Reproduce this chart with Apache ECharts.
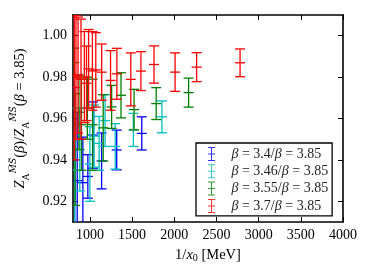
<!DOCTYPE html>
<html>
<head>
<meta charset="utf-8">
<script src="https://cdn.jsdelivr.net/npm/echarts@6/dist/echarts.min.js"></script>
<style>html,body{margin:0;padding:0;background:#fff}#c{width:374px;height:280px}</style>
</head>
<body>
<div id="c"></div>
<script>
// ---- data (x = 1/x0 [MeV], y = ratio, e = error) ----
const seriesNames = ['β = 3.4/β = 3.85', 'β = 3.46/β = 3.85', 'β = 3.55/β = 3.85', 'β = 3.7/β = 3.85'];

const blueX = [820, 850, 917, 976, 1036, 1139, 1318, 1615];
const blueY = [0.940, 0.930, 0.929, 0.932, 0.952, 0.9395, 0.9448, 0.9528];
const blueE = [0.035, 0.033, 0.022, 0.0105, 0.016, 0.0135, 0.0096, 0.008];

const cyanX = [820, 880, 1000, 1050, 1110, 1180, 1300, 1515, 1854];
const cyanY = [0.935, 0.945, 0.938, 0.9515, 0.948, 0.959, 0.9465, 0.9545, 0.9608];
const cyanE = [0.030, 0.020, 0.018, 0.015, 0.013, 0.0125, 0.011, 0.008, 0.0077];

const greenX = [815, 825, 870, 900, 970, 1032, 1158, 1258, 1369, 1524, 1786, 2170];
const greenY = [0.987, 0.945, 0.963, 0.957, 0.965, 0.957, 0.9555, 0.9656, 0.9712, 0.9643, 0.9672, 0.9725];
const greenE = [0.007, 0.027, 0.018, 0.022, 0.015, 0.022, 0.016, 0.0104, 0.0109, 0.0098, 0.0077, 0.007];

const redX = [815, 835, 860, 895, 935, 960, 985, 1030, 1070, 1140, 1245, 1320, 1485, 1605, 1760, 2010, 2265, 2780];
const redY = [0.975, 0.980, 0.981, 0.979, 0.980, 0.977, 0.984, 0.983, 0.9835, 0.9824, 0.9784, 0.9816, 0.9789, 0.9829, 0.9861, 0.9824, 0.9848, 0.9869];
const redE = [0.035, 0.030, 0.028, 0.029, 0.022, 0.018, 0.019, 0.019, 0.018, 0.0136, 0.0144, 0.0123, 0.0128, 0.0094, 0.009, 0.0093, 0.007, 0.0067];

const xTicks = [1000, 1500, 2000, 2500, 3000, 3500, 4000];
const yTicks = [0.92, 0.94, 0.96, 0.98, 1.00];

// ---- chart ----
const colors = ['#0000ff', '#00bfbf', '#008000', '#ff0000'];
const allX = [blueX, cyanX, greenX, redX];
const allY = [blueY, cyanY, greenY, redY];
const allE = [blueE, cyanE, greenE, redE];

function buildData(xs, ys, es) {
  return xs.map((x, i) => [x, ys[i], es[i]]);
}

function renderItem(params, api) {
  const x = api.value(0), y = api.value(1), e = api.value(2);
  const top = api.coord([x, y + e]);
  const bot = api.coord([x, y - e]);
  const mid = api.coord([x, y]);
  const hw = 5;
  const color = api.visual('color');
  const style = { stroke: color, lineWidth: 1.3, fill: null };
  return {
    type: 'group',
    children: [
      { type: 'line', shape: { x1: mid[0], y1: top[1], x2: mid[0], y2: bot[1] }, style },
      { type: 'line', shape: { x1: mid[0] - hw, y1: top[1], x2: mid[0] + hw, y2: top[1] }, style },
      { type: 'line', shape: { x1: mid[0] - hw, y1: bot[1], x2: mid[0] + hw, y2: bot[1] }, style },
      { type: 'line', shape: { x1: mid[0] - hw, y1: mid[1], x2: mid[0] + hw, y2: mid[1] }, style }
    ]
  };
}

const ebIcon = 'path://M0,0h10v1.4h-10z M4.3,0h1.4v20h-1.4z M0,9.3h10v1.4h-10z M0,18.6h10v1.4h-10z';
const serif = '"Liberation Serif", "DejaVu Serif", serif';

const series = seriesNames.map((n, k) => ({
  name: n,
  type: 'custom',
  renderItem: renderItem,
  clip: true,
  itemStyle: { color: colors[k], opacity: 0.8 },
  encode: { x: 0, y: 1 },
  data: buildData(allX[k], allY[k], allE[k]),
  z: 2 + k
}));

const axisLineStyle = { color: '#000', width: 1.6 };

const option = {
  animation: false,
  backgroundColor: '#fff',
  grid: { left: 73, right: 31, top: 15, bottom: 58 },
  legend: {
    orient: 'vertical',
    left: 196, top: 143,
    padding: [4, 4, 3, 12],
    itemGap: 3.3,
    itemWidth: 10, itemHeight: 14,
    borderColor: '#000', borderWidth: 1.3,
    backgroundColor: '#fff',
    formatter: name => name.replace(/β/g, '{i|β}'),
    textStyle: {
      fontFamily: serif, fontSize: 14, color: '#222', padding: [0, 0, 0, 10],
      rich: { i: { fontFamily: serif, fontSize: 14, fontStyle: 'italic', color: '#222' } }
    },
    data: seriesNames.map((n, k) => ({ name: n, icon: ebIcon, itemStyle: { color: colors[k] } }))
  },
  xAxis: [{
    type: 'value', min: 800, max: 4000,
    name: '1/{i|x}{s|0} [MeV]',
    nameLocation: 'middle', nameGap: 26,
    nameTextStyle: {
      fontFamily: serif, fontSize: 14.5, color: '#000',
      rich: {
        i: { fontFamily: serif, fontSize: 14.5, fontStyle: 'italic', color: '#000' },
        s: { fontFamily: serif, fontSize: 10, color: '#000', verticalAlign: 'bottom', lineHeight: 10 }
      }
    },
    axisLine: { show: true, onZero: false, lineStyle: axisLineStyle },
    axisTick: { show: true, inside: true, length: 5, lineStyle: { color: '#000', width: 1 }, customValues: xTicks },
    axisLabel: { show: true, customValues: xTicks, fontFamily: serif, fontSize: 14, color: '#000', margin: 6,
      formatter: v => String(v) },
    splitLine: { show: false }
  }, {
    type: 'value', min: 800, max: 4000, position: 'top',
    axisLine: { show: true, onZero: false, lineStyle: axisLineStyle },
    axisTick: { show: true, inside: true, length: 5, lineStyle: { color: '#000', width: 1 }, customValues: xTicks },
    axisLabel: { show: false },
    splitLine: { show: false }
  }],
  yAxis: [{
    type: 'value', min: 0.91, max: 1.01,
    name: '{z|Z}{sb|A}{sp|M̅S̅}{n|(}{b|β}{n|)/}{z|Z}{sb|A}{sp|M̅S̅}{n|(}{b|β}{n| = 3.85)}',
    nameLocation: 'middle', nameGap: 36, nameRotate: 90,
    nameTextStyle: {
      fontFamily: serif, fontSize: 14.5, color: '#000',
      rich: {
        z: { fontFamily: serif, fontSize: 14.5, fontStyle: 'italic', color: '#000', lineHeight: 22 },
        n: { fontFamily: serif, fontSize: 14.5, color: '#000', lineHeight: 22 },
        b: { fontFamily: serif, fontSize: 14.5, fontStyle: 'italic', color: '#000', lineHeight: 22 },
        sb: { fontFamily: serif, fontSize: 10, color: '#000', verticalAlign: 'bottom', lineHeight: 10 },
        sp: { fontFamily: '"DejaVu Serif", serif', fontSize: 9, fontStyle: 'italic', color: '#000', verticalAlign: 'top', lineHeight: 10 }
      }
    },
    axisLine: { show: true, onZero: false, lineStyle: axisLineStyle },
    axisTick: { show: true, inside: true, length: 5, lineStyle: { color: '#000', width: 1 }, customValues: yTicks },
    axisLabel: { show: true, customValues: yTicks, fontFamily: serif, fontSize: 14, color: '#000', margin: 6,
      formatter: v => v.toFixed(2) },
    splitLine: { show: false }
  }, {
    type: 'value', min: 0.91, max: 1.01, position: 'right',
    axisLine: { show: true, onZero: false, lineStyle: axisLineStyle },
    axisTick: { show: true, inside: true, length: 5, lineStyle: { color: '#000', width: 1 }, customValues: yTicks },
    axisLabel: { show: false },
    splitLine: { show: false }
  }],
  series: series
};

const chart = echarts.init(document.getElementById('c'), null, { renderer: 'canvas' });
chart.setOption(option);
</script>
</body>
</html>
